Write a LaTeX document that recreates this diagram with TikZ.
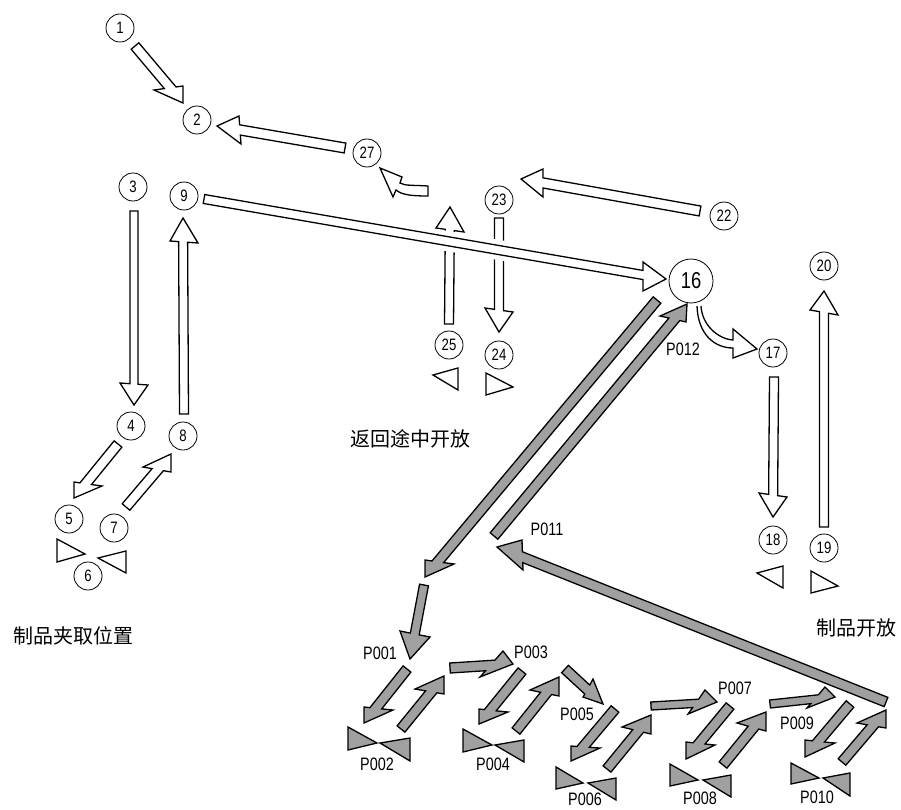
\documentclass[tikz,border=0pt]{standalone}
\usepackage{fontspec}
\setmainfont{Liberation Sans}
\newfontfamily\cond[FakeStretch=0.8]{Liberation Sans}
\newfontfamily\cjk{Noto Sans CJK SC}
\usetikzlibrary{calc}
\definecolor{agray}{RGB}{160,160,160}
% block arrow: #2 tail, #3 tip (named coordinates), #4 half shaft width,
% #5 barb on the traveller's left, #6 barb on the right
\newcommand\blockarrow[6][]{%
  \coordinate (baL) at #5;
  \coordinate (baR) at #6;
  \coordinate (batL) at ($(#2)!#4pt!90:(#3)$);
  \coordinate (batR) at ($(#2)!#4pt!-90:(#3)$);
  \coordinate (bahL) at ($(#3)!#4pt!-90:(#2)$);
  \coordinate (bahR) at ($(#3)!#4pt!90:(#2)$);
  \draw[#1] (batL) -- (intersection of batL--bahL and baL--baR) -- (baL) -- (#3)
    -- (baR) -- (intersection of batR--bahR and baL--baR) -- (batR) -- cycle;
}
\tikzset{
  num/.style={circle, draw, line width=0.8pt, fill=white, minimum size=28pt, inner sep=0pt,
    font=\cond\fontsize{16.5}{16.5}\selectfont},
  bignum/.style={num, minimum size=44pt, font=\cond\fontsize{23}{23}\selectfont},
  warr/.style={draw, fill=white, line width=1.3pt, line join=miter},
  garr/.style={draw, fill=agray, line width=1.3pt, line join=miter},
  tri/.style={draw, fill=white, line width=1.3pt, line join=miter},
  gtri/.style={draw, fill=agray, line width=1.3pt, line join=miter},
  plab/.style={font=\cond\fontsize{18}{18}\selectfont, inner sep=0pt},
  zh/.style={font=\cjk\fontsize{20}{20}\selectfont, inner sep=0pt},
  halo/.style={preaction={draw=white, line width=11pt}}
}
\begin{document}
\begin{tikzpicture}[x=1pt,y=-1pt]
\useasboundingbox[fill=white] (0,0) rectangle (901,810);

% ---- coordinates of arrow ends ----
\coordinate (a1s) at (135,46);  \coordinate (a1e) at (183,103);
\coordinate (a2s) at (345,148); \coordinate (a2e) at (217,126);
\coordinate (a3s) at (700,211); \coordinate (a3e) at (521,179);
\coordinate (a4s) at (134,211); \coordinate (a4e) at (134,405);
\coordinate (a5s) at (184,414); \coordinate (a5e) at (183,218);
\coordinate (a6s) at (204,199); \coordinate (a6e) at (666,279);
\coordinate (a7s) at (499,218); \coordinate (a7e) at (499,332);
\coordinate (a8s) at (449,324); \coordinate (a8e) at (450,207);
\coordinate (a9s) at (774,377); \coordinate (a9e) at (773,517);
\coordinate (a10s) at (824,527); \coordinate (a10e) at (824,291);
\coordinate (a11s) at (118,444); \coordinate (a11e) at (74,498);
\coordinate (a12s) at (126,507); \coordinate (a12e) at (171,454);

\coordinate (g1s) at (657,300); \coordinate (g1e) at (425,577);
\coordinate (g2s) at (494,536); \coordinate (g2e) at (687,304);
\coordinate (g3s) at (886,702); \coordinate (g3e) at (497,547);
\coordinate (g4s) at (424,585); \coordinate (g4e) at (410,659);
\coordinate (g5s) at (407,669); \coordinate (g5e) at (364,723);
\coordinate (g6s) at (401,729); \coordinate (g6e) at (444,676);
\coordinate (g7s) at (450,668); \coordinate (g7e) at (513,664);
\coordinate (g8s) at (522,671); \coordinate (g8e) at (479,724);
\coordinate (g9s) at (516,731); \coordinate (g9e) at (559,677);
\coordinate (g10s) at (565,669); \coordinate (g10e) at (603,704);
\coordinate (g11s) at (615,709); \coordinate (g11e) at (571,761);
\coordinate (g12s) at (607,769); \coordinate (g12e) at (651,715);
\coordinate (g13s) at (651,706); \coordinate (g13e) at (717,702);
\coordinate (g14s) at (730,706); \coordinate (g14e) at (686,759);
\coordinate (g15s) at (723,765); \coordinate (g15e) at (766,712);
\coordinate (g16s) at (770,704); \coordinate (g16e) at (835,697);
\coordinate (g17s) at (850,704); \coordinate (g17e) at (805,757);
\coordinate (g18s) at (842,762); \coordinate (g18e) at (886,710);

% ---- white arrows ----
\blockarrow[warr]{a7s}{a7e}{4.5}{(513,312)}{(485,308)}
\blockarrow[warr]{a8s}{a8e}{4.5}{(436,228)}{(464,232)}
\blockarrow[warr,halo]{a6s}{a6e}{4.5}{(643,262)}{(643,291)}
\blockarrow[warr]{a1s}{a1e}{5}{(183,86)}{(154,90)}
\blockarrow[warr]{a2s}{a2e}{5}{(241,144)}{(239,116)}
\blockarrow[warr]{a3s}{a3e}{5}{(543,197)}{(543,169)}
\blockarrow[warr]{a4s}{a4e}{4}{(148,385)}{(120,383)}
\blockarrow[warr]{a5s}{a5e}{4.5}{(170,241)}{(198,243)}
\blockarrow[warr]{a9s}{a9e}{4.5}{(787,497)}{(759,493)}
\blockarrow[warr]{a10s}{a10e}{4.5}{(810,310)}{(838,315)}
\blockarrow[warr]{a11s}{a11e}{5}{(102,486)}{(74,482)}
\blockarrow[warr]{a12s}{a12e}{5}{(143,467)}{(171,472)}

% curved arrow next to 27
\draw[warr] (428,186) .. controls (413,185) and (405,186) .. (400,183) -- (402,177) -- (380,168)
  -- (393,197) -- (396,190) .. controls (402,195) and (412,196) .. (428,196) -- cycle;
% curved arrow 16 -> 17
\fill[white] (697,306) .. controls (698,335) and (715,348) .. (733,348) -- (733,358) -- (757,349)
  -- (733,329) -- (733,340) .. controls (718,339) and (702,325) .. (701,306) -- cycle;
\draw[line width=1.3pt, line join=miter] (697,306) .. controls (698,335) and (715,348) .. (733,348) -- (733,358) -- (757,349)
  -- (733,329) -- (733,340) .. controls (718,339) and (702,325) .. (701,306);

% ---- grey arrows ----
\blockarrow[garr]{g1s}{g1e}{5}{(454,564)}{(425,560)}
\blockarrow[garr]{g2s}{g2e}{5}{(660,316)}{(686,322)}
\blockarrow[garr]{g3s}{g3e}{5}{(523,570)}{(522,540)}
\blockarrow[garr]{g4s}{g4e}{4.5}{(430,637)}{(400,631)}
\blockarrow[garr]{g5s}{g5e}{5}{(393,710)}{(364,707)}
\blockarrow[garr]{g6s}{g6e}{5}{(415,689)}{(444,694)}
\blockarrow[garr]{g7s}{g7e}{5}{(503,651)}{(480,677)}
\blockarrow[garr]{g8s}{g8e}{5}{(508,712)}{(479,709)}
\blockarrow[garr]{g9s}{g9e}{5}{(530,690)}{(559,696)}
\blockarrow[garr]{g10s}{g10e}{5}{(593,679)}{(583,697)}
\blockarrow[garr]{g11s}{g11e}{5}{(600,748)}{(571,746)}
\blockarrow[garr]{g12s}{g12e}{5}{(622,727)}{(651,734)}
\blockarrow[garr]{g13s}{g13e}{4}{(705,690)}{(688,714)}
\blockarrow[garr]{g14s}{g14e}{5}{(715,745)}{(686,742)}
\blockarrow[garr]{g15s}{g15e}{5}{(737,723)}{(766,731)}
\blockarrow[garr]{g16s}{g16e}{4}{(825,687)}{(807,708)}
\blockarrow[garr]{g17s}{g17e}{5}{(835,743)}{(805,740)}
\blockarrow[garr]{g18s}{g18e}{5}{(857,723)}{(886,728)}

% ---- white triangles ----
\draw[tri] (57,539) -- (85,554) -- (57,562) -- cycle;
\draw[tri] (98,558) -- (126,551) -- (126,573) -- cycle;
\draw[tri] (433,375) -- (458,368) -- (458,390) -- cycle;
\draw[tri] (486,373) -- (513,387) -- (486,395) -- cycle;
\draw[tri] (757,573) -- (783,566) -- (783,588) -- cycle;
\draw[tri] (811,571) -- (838,586) -- (811,593) -- cycle;

% ---- grey bow ties ----
\draw[gtri] (348,727) -- (377,743) -- (348,750) -- cycle;
\draw[gtri] (380,743) -- (410,738) -- (410,761) -- cycle;
\draw[gtri] (463,729) -- (492,745) -- (463,752) -- cycle;
\draw[gtri] (495,745) -- (524,740) -- (524,762) -- cycle;
\draw[gtri] (556,767) -- (583,783) -- (556,789) -- cycle;
\draw[gtri] (588,783) -- (616,778) -- (616,800) -- cycle;
\draw[gtri] (670,764) -- (698,780) -- (670,786) -- cycle;
\draw[gtri] (703,780) -- (731,775) -- (731,797) -- cycle;
\draw[gtri] (791,763) -- (819,778) -- (791,784) -- cycle;
\draw[gtri] (823,778) -- (850,773) -- (850,796) -- cycle;

% ---- numbered circles ----
\node[num] (n1) at (120,28) {1};
\node[num] (n2) at (197,120) {2};
\node[num] (n3) at (133,187) {3};
\node[num] (n4) at (131,426) {4};
\node[num] (n5) at (69,519) {5};
\node[num] (n6) at (88,576) {6};
\node[num] (n7) at (114,528) {7};
\node[num] (n8) at (183,436) {8};
\node[num] (n9) at (184,196) {9};
\node[bignum] (n16) at (691,281) {16};
\node[num] (n17) at (773,353) {17};
\node[num] (n18) at (773,540) {18};
\node[num] (n19) at (824,548) {19};
\node[num] (n20) at (824,266) {20};
\node[num] (n22) at (724,216) {22};
\node[num] (n23) at (499,200) {23};
\node[num] (n24) at (499,355) {24};
\node[num] (n25) at (449,345) {25};
\node[num] (n27) at (367,153) {27};

% ---- P labels ----
\node[plab] (p1) at (380,653) {P001};
\node[plab] (p2) at (377,764) {P002};
\node[plab] (p3) at (531,652) {P003};
\node[plab] (p4) at (493,764) {P004};
\node[plab] (p5) at (577,714) {P005};
\node[plab] (p6) at (585,799) {P006};
\node[plab] (p7) at (735,688) {P007};
\node[plab] (p8) at (700,798) {P008};
\node[plab] (p9) at (797,723) {P009};
\node[plab] (p10) at (817,797) {P010};
\node[plab] (p11) at (547,529) {P011};
\node[plab] (p12) at (683,349) {P012};

% ---- texts ----
\node[zh] (t1) at (73,636) {制品夹取位置};
\node[zh] (t2) at (410,439) {返回途中开放};
\node[zh] (t3) at (856,628) {制品开放};
\end{tikzpicture}
\end{document}
